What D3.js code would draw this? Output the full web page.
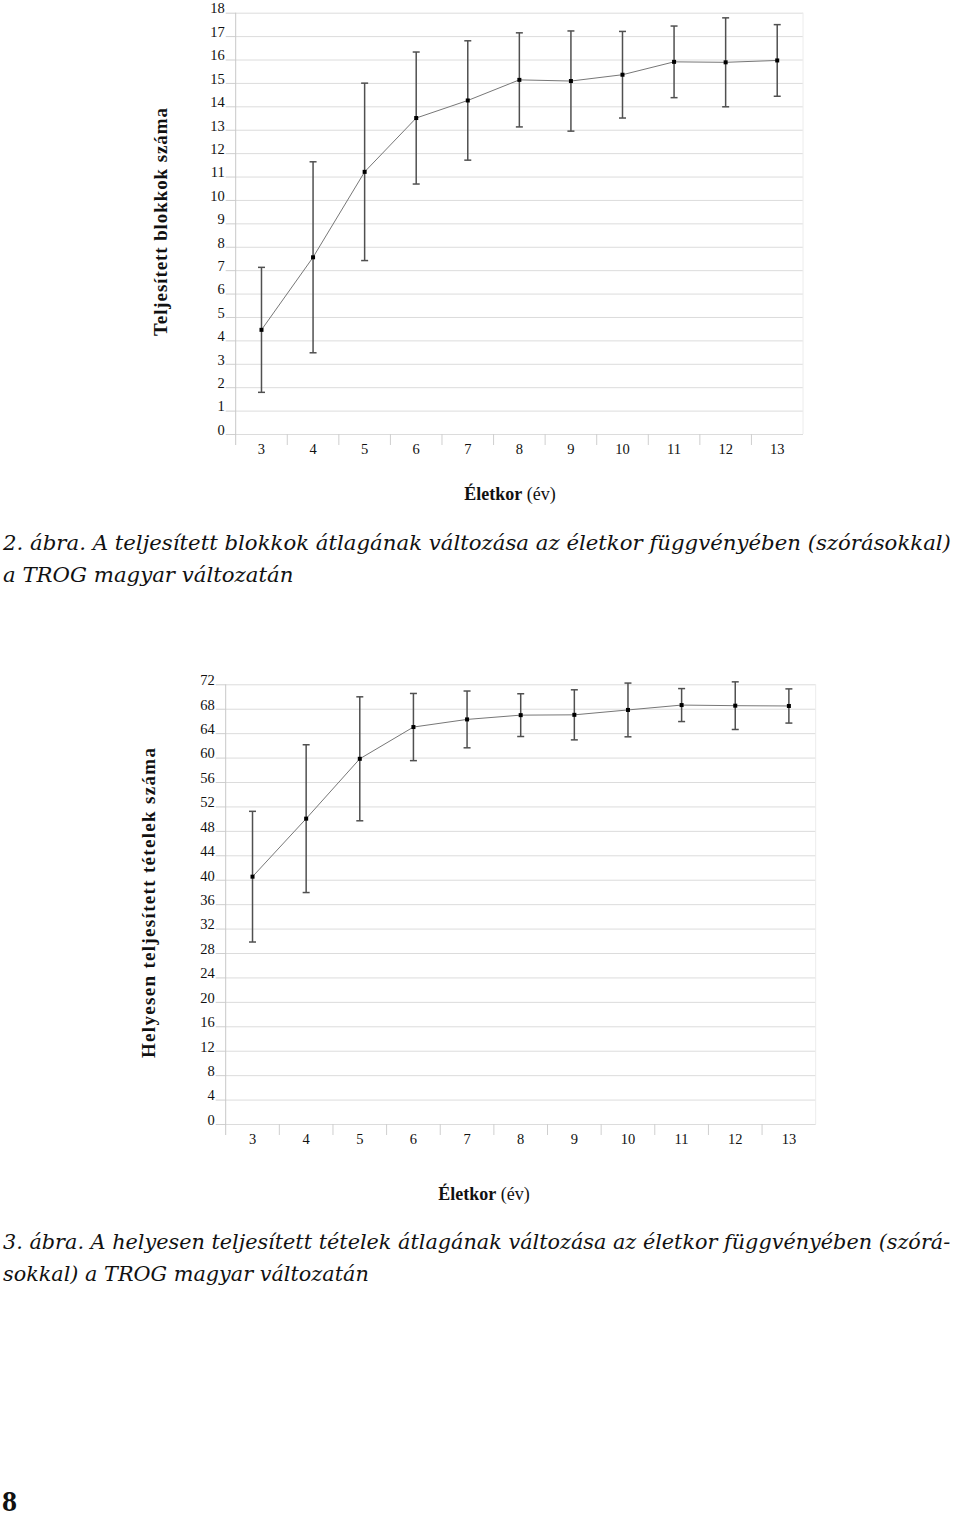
<!DOCTYPE html>
<html>
<head>
<meta charset="utf-8">
<script src="https://cdn.jsdelivr.net/npm/d3@7"></script>
<style>
  body { margin: 0; background: #fff; }
  svg { display: block; }
</style>
</head>
<body>
<div class="page"></div>
<script>
// ages on the x axis (same for both figures)
var ages = [3, 4, 5, 6, 7, 8, 9, 10, 11, 12, 13];

// 2. ábra: completed blocks, mean and SD
var blockMeans = [4.45, 7.55, 11.2, 13.5, 14.25, 15.13, 15.08, 15.35, 15.9, 15.88, 15.96];
var blockSD = [2.67, 4.08, 3.79, 2.82, 2.55, 2.01, 2.14, 1.85, 1.53, 1.9, 1.53];
var blockTicks = [0, 1, 2, 3, 4, 5, 6, 7, 8, 9, 10, 11, 12, 13, 14, 15, 16, 17, 18];

// 3. ábra: correctly completed items, mean and SD
var itemMeans = [40.5, 50.0, 59.8, 65.0, 66.25, 66.95, 67.0, 67.8, 68.6, 68.5, 68.45];
var itemSD = [10.7, 12.1, 10.15, 5.5, 4.65, 3.5, 4.1, 4.4, 2.7, 3.9, 2.8];
var itemTicks = [0, 4, 8, 12, 16, 20, 24, 28, 32, 36, 40, 44, 48, 52, 56, 60, 64, 68, 72];

var svgWidth = 960;
var svgHeight = 1516;

var svg = d3.select(".page")
  .append("svg")
  .attr("width", svgWidth)
  .attr("height", svgHeight);

svg.append("rect")
  .attr("width", svgWidth)
  .attr("height", svgHeight)
  .attr("fill", "#fff");

var serif = "'Liberation Serif', 'DejaVu Serif', serif";

// draws one error-bar line chart
function drawChart(opt) {
  var g = svg.append("g");

  var x = d3.scaleBand()
    .domain(ages)
    .range([opt.left, opt.right]);

  var y = d3.scaleLinear()
    .domain([0, opt.ticks[opt.ticks.length - 1]])
    .range([opt.bottom, opt.top]);

  // horizontal gridlines
  g.append("g")
    .attr("transform", `translate(${opt.left},0)`)
    .call(d3.axisLeft(y).tickValues(opt.ticks).tickSize(-(opt.right - opt.left)).tickFormat(""))
    .call(a => a.select(".domain").remove())
    .selectAll("line")
    .attr("stroke", "#dcdcdc");

  // right border of the plot area
  g.append("line")
    .attr("x1", opt.right).attr("x2", opt.right)
    .attr("y1", opt.top).attr("y2", opt.bottom)
    .attr("stroke", "#ececec");

  // y axis with labels and short ticks
  var yAxis = g.append("g")
    .attr("transform", `translate(${opt.left},0)`)
    .call(d3.axisLeft(y).tickValues(opt.ticks).tickSize(10).tickPadding(1).tickSizeOuter(0));
  yAxis.select(".domain").remove();
  yAxis.selectAll("line").attr("stroke", "#cfcfcf");
  yAxis.selectAll("text")
    .attr("dy", "0.02em")
    .attr("fill", "#111")
    .style("font-family", serif)
    .style("font-size", "14.5px");

  // y axis line, runs down through the x tick zone
  g.append("line")
    .attr("x1", opt.left).attr("x2", opt.left)
    .attr("y1", opt.top).attr("y2", opt.bottom + 11)
    .attr("stroke", "#c8c8c8");

  // x axis labels
  var xAxis = g.append("g")
    .attr("transform", `translate(0,${opt.bottom})`)
    .call(d3.axisBottom(x).tickSize(0).tickPadding(10));
  xAxis.select(".domain").remove();
  xAxis.selectAll("text")
    .attr("fill", "#111")
    .style("font-family", serif)
    .style("font-size", "14.5px");

  // x ticks sit on the band boundaries
  g.selectAll(".xtick")
    .data(ages.slice(1))
    .enter()
    .append("line")
    .attr("x1", d => x(d)).attr("x2", d => x(d))
    .attr("y1", opt.bottom).attr("y2", opt.bottom + 11)
    .attr("stroke", "#cfcfcf");

  var pts = ages.map((a, i) => ({ age: a, mean: opt.means[i], sd: opt.sd[i] }));
  var cx = d => x(d.age) + x.bandwidth() / 2;

  // mean line
  var line = d3.line()
    .x(cx)
    .y(d => y(d.mean));

  g.append("path")
    .datum(pts)
    .attr("d", line)
    .attr("fill", "none")
    .attr("stroke", "#777")
    .attr("stroke-width", 1);

  // error bars
  var bars = g.selectAll(".err")
    .data(pts)
    .enter()
    .append("g")
    .attr("stroke", "#505050")
    .attr("stroke-width", 1.5);

  bars.append("line")
    .attr("x1", cx).attr("x2", cx)
    .attr("y1", d => y(d.mean + d.sd))
    .attr("y2", d => y(d.mean - d.sd));
  bars.append("line")
    .attr("x1", d => cx(d) - 3.5).attr("x2", d => cx(d) + 3.5)
    .attr("y1", d => y(d.mean + d.sd)).attr("y2", d => y(d.mean + d.sd));
  bars.append("line")
    .attr("x1", d => cx(d) - 3.5).attr("x2", d => cx(d) + 3.5)
    .attr("y1", d => y(d.mean - d.sd)).attr("y2", d => y(d.mean - d.sd));

  // square markers
  g.selectAll(".pt")
    .data(pts)
    .enter()
    .append("rect")
    .attr("x", d => cx(d) - 2)
    .attr("y", d => y(d.mean) - 2)
    .attr("width", 4)
    .attr("height", 4)
    .attr("fill", "#000");

  // y title
  g.append("text")
    .attr("transform", `translate(${opt.yTitleX},${opt.yTitleY}) rotate(-90)`)
    .attr("text-anchor", "middle")
    .attr("dominant-baseline", "central")
    .attr("textLength", opt.yTitleLen)
    .style("font-family", serif)
    .style("font-weight", "bold")
    .style("font-size", "19px")
    .attr("fill", "#111")
    .text(opt.yTitle);

  // x title
  var xt = g.append("text")
    .attr("x", opt.xTitleX)
    .attr("y", opt.xTitleY)
    .attr("text-anchor", "middle")
    .style("font-family", serif)
    .style("font-size", "18px")
    .attr("fill", "#111");
  xt.append("tspan").style("font-weight", "bold").text("Életkor");
  xt.append("tspan").text(" (év)");
}

drawChart({
  left: 235.7, right: 803, top: 12.7, bottom: 434,
  ticks: blockTicks, means: blockMeans, sd: blockSD,
  yTitle: "Teljesített blokkok száma", yTitleX: 160, yTitleY: 222, yTitleLen: 228,
  xTitleX: 510, xTitleY: 500
});

drawChart({
  left: 225.7, right: 815.7, top: 684.3, bottom: 1124,
  ticks: itemTicks, means: itemMeans, sd: itemSD,
  yTitle: "Helyesen teljesített tételek száma", yTitleX: 148, yTitleY: 903, yTitleLen: 310,
  xTitleX: 484, xTitleY: 1200
});

// captions: first line of each is sized to run nearly the full page width
var captions = [
  { lines: ["2. ábra. A teljesített blokkok átlagának változása az életkor függvényében (szórásokkal)",
            "a TROG magyar változatán"], y: 550 },
  { lines: ["3. ábra. A helyesen teljesített tételek átlagának változása az életkor függvényében (szórá-",
            "sokkal) a TROG magyar változatán"], y: 1249 }
];

captions.forEach(function(c) {
  var texts = c.lines.map(function(s, i) {
    return svg.append("text")
      .attr("x", 3)
      .attr("y", c.y + i * 32)
      .style("font-family", "'DejaVu Serif', serif")
      .style("font-style", "italic")
      .style("font-size", "21px")
      .attr("fill", "#111")
      .text(s);
  });
  var w = texts[0].node().getComputedTextLength();
  var size = Math.min(21.5, 21 * 948 / w);
  texts.forEach(t => t.style("font-size", size + "px"));
});

// page number
svg.append("text")
  .attr("x", 2)
  .attr("y", 1511)
  .style("font-family", serif)
  .style("font-weight", "bold")
  .style("font-size", "30px")
  .attr("fill", "#111")
  .text("8");
</script>
</body>
</html>
